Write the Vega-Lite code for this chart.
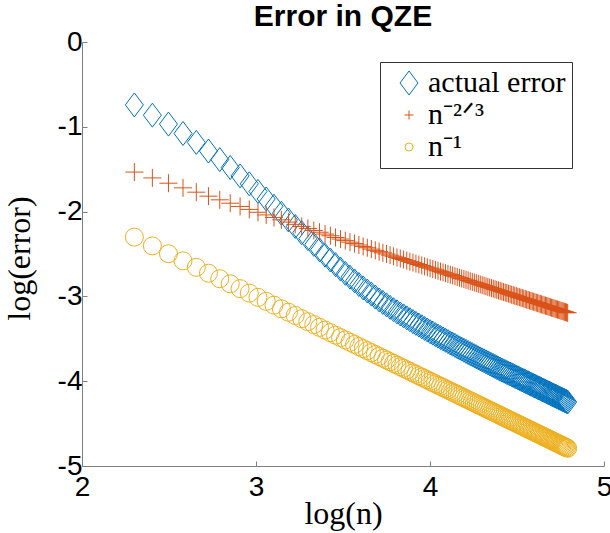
{
"$schema":"https://vega.github.io/schema/vega-lite/v6.json",
"width":522,"height":424,
"autosize":{"type":"none"},
"padding":{"left":82,"top":42,"right":6,"bottom":67},
"background":"white",
"config":{"view":{"stroke":null},"font":"Liberation Sans"},
"title":{"text":"Error in QZE","font":"Liberation Sans","fontSize":30,"fontWeight":"bold","color":"black","offset":13,"dy":17,"anchor":"middle","frame":"group"},
"datasets":{
"err":[{"x":2.3009,"y":-0.742},{"x":2.4044,"y":-0.863},{"x":2.4969,"y":-0.968},{"x":2.5805,"y":-1.079},{"x":2.6568,"y":-1.184},{"x":2.7268,"y":-1.286},{"x":2.7917,"y":-1.387},{"x":2.852,"y":-1.48},{"x":2.9085,"y":-1.579},{"x":2.9614,"y":-1.672},{"x":3.0114,"y":-1.762},{"x":3.0586,"y":-1.851},{"x":3.1034,"y":-1.937},{"x":3.146,"y":-2.02},{"x":3.1866,"y":-2.099},{"x":3.2254,"y":-2.175},{"x":3.2625,"y":-2.249},{"x":3.2981,"y":-2.319},{"x":3.3323,"y":-2.387},{"x":3.3652,"y":-2.451},{"x":3.3969,"y":-2.514},{"x":3.4275,"y":-2.571},{"x":3.457,"y":-2.625},{"x":3.4856,"y":-2.678},{"x":3.5133,"y":-2.728},{"x":3.5401,"y":-2.773},{"x":3.5661,"y":-2.817},{"x":3.5913,"y":-2.86},{"x":3.6159,"y":-2.9},{"x":3.6397,"y":-2.937},{"x":3.663,"y":-2.973},{"x":3.6856,"y":-3.008},{"x":3.7076,"y":-3.041},{"x":3.7291,"y":-3.071},{"x":3.7501,"y":-3.1},{"x":3.7706,"y":-3.129},{"x":3.7906,"y":-3.157},{"x":3.8102,"y":-3.183},{"x":3.8293,"y":-3.207},{"x":3.848,"y":-3.23},{"x":3.8664,"y":-3.253},{"x":3.8843,"y":-3.275},{"x":3.9019,"y":-3.297},{"x":3.9191,"y":-3.318},{"x":3.936,"y":-3.338},{"x":3.9526,"y":-3.358},{"x":3.9689,"y":-3.378},{"x":3.9848,"y":-3.397},{"x":4.0005,"y":-3.416},{"x":4.0159,"y":-3.433},{"x":4.0311,"y":-3.451},{"x":4.0459,"y":-3.468},{"x":4.0605,"y":-3.485},{"x":4.0749,"y":-3.501},{"x":4.0891,"y":-3.517},{"x":4.103,"y":-3.533},{"x":4.1167,"y":-3.549},{"x":4.1302,"y":-3.564},{"x":4.1435,"y":-3.578},{"x":4.1565,"y":-3.593},{"x":4.1694,"y":-3.607},{"x":4.1821,"y":-3.621},{"x":4.1947,"y":-3.635},{"x":4.207,"y":-3.649},{"x":4.2192,"y":-3.662},{"x":4.2312,"y":-3.675},{"x":4.243,"y":-3.687},{"x":4.2547,"y":-3.7},{"x":4.2662,"y":-3.712},{"x":4.2776,"y":-3.725},{"x":4.2888,"y":-3.737},{"x":4.2999,"y":-3.749},{"x":4.3108,"y":-3.76},{"x":4.3216,"y":-3.772},{"x":4.3323,"y":-3.783},{"x":4.3428,"y":-3.794},{"x":4.3532,"y":-3.805},{"x":4.3635,"y":-3.816},{"x":4.3737,"y":-3.827},{"x":4.3837,"y":-3.838},{"x":4.3937,"y":-3.848},{"x":4.4035,"y":-3.859},{"x":4.4132,"y":-3.868},{"x":4.4228,"y":-3.878},{"x":4.4323,"y":-3.887},{"x":4.4417,"y":-3.897},{"x":4.451,"y":-3.906},{"x":4.4602,"y":-3.915},{"x":4.4693,"y":-3.924},{"x":4.4784,"y":-3.933},{"x":4.4873,"y":-3.942},{"x":4.4961,"y":-3.951},{"x":4.5048,"y":-3.96},{"x":4.5135,"y":-3.969},{"x":4.5221,"y":-3.977},{"x":4.5305,"y":-3.986},{"x":4.5389,"y":-3.994},{"x":4.5473,"y":-4.002},{"x":4.5555,"y":-4.011},{"x":4.5637,"y":-4.019},{"x":4.5718,"y":-4.027},{"x":4.5798,"y":-4.035},{"x":4.5877,"y":-4.043},{"x":4.5956,"y":-4.051},{"x":4.6034,"y":-4.058},{"x":4.6111,"y":-4.066},{"x":4.6188,"y":-4.074},{"x":4.6264,"y":-4.081},{"x":4.6339,"y":-4.089},{"x":4.6413,"y":-4.096},{"x":4.6487,"y":-4.104},{"x":4.6561,"y":-4.111},{"x":4.6634,"y":-4.118},{"x":4.6706,"y":-4.126},{"x":4.6777,"y":-4.133},{"x":4.6848,"y":-4.14},{"x":4.6919,"y":-4.147},{"x":4.6988,"y":-4.154},{"x":4.7058,"y":-4.161},{"x":4.7126,"y":-4.168},{"x":4.7195,"y":-4.175},{"x":4.7262,"y":-4.181},{"x":4.7329,"y":-4.188},{"x":4.7396,"y":-4.195},{"x":4.7462,"y":-4.201},{"x":4.7528,"y":-4.208},{"x":4.7593,"y":-4.214},{"x":4.7657,"y":-4.221},{"x":4.7722,"y":-4.227},{"x":4.7785,"y":-4.234},{"x":4.7848,"y":-4.24},{"x":4.7911,"y":-4.246}],
"p23":[{"x":2.3009,"y":-1.534},{"x":2.4044,"y":-1.603},{"x":2.4969,"y":-1.665},{"x":2.5805,"y":-1.72},{"x":2.6568,"y":-1.771},{"x":2.7268,"y":-1.818},{"x":2.7917,"y":-1.861},{"x":2.852,"y":-1.901},{"x":2.9085,"y":-1.939},{"x":2.9614,"y":-1.974},{"x":3.0114,"y":-2.008},{"x":3.0586,"y":-2.039},{"x":3.1034,"y":-2.069},{"x":3.146,"y":-2.097},{"x":3.1866,"y":-2.124},{"x":3.2254,"y":-2.15},{"x":3.2625,"y":-2.175},{"x":3.2981,"y":-2.199},{"x":3.3323,"y":-2.222},{"x":3.3652,"y":-2.243},{"x":3.3969,"y":-2.265},{"x":3.4275,"y":-2.285},{"x":3.457,"y":-2.305},{"x":3.4856,"y":-2.324},{"x":3.5133,"y":-2.342},{"x":3.5401,"y":-2.36},{"x":3.5661,"y":-2.377},{"x":3.5913,"y":-2.394},{"x":3.6159,"y":-2.411},{"x":3.6397,"y":-2.426},{"x":3.663,"y":-2.442},{"x":3.6856,"y":-2.457},{"x":3.7076,"y":-2.472},{"x":3.7291,"y":-2.486},{"x":3.7501,"y":-2.5},{"x":3.7706,"y":-2.514},{"x":3.7906,"y":-2.527},{"x":3.8102,"y":-2.54},{"x":3.8293,"y":-2.553},{"x":3.848,"y":-2.565},{"x":3.8664,"y":-2.578},{"x":3.8843,"y":-2.59},{"x":3.9019,"y":-2.601},{"x":3.9191,"y":-2.613},{"x":3.936,"y":-2.624},{"x":3.9526,"y":-2.635},{"x":3.9689,"y":-2.646},{"x":3.9848,"y":-2.657},{"x":4.0005,"y":-2.667},{"x":4.0159,"y":-2.677},{"x":4.0311,"y":-2.687},{"x":4.0459,"y":-2.697},{"x":4.0605,"y":-2.707},{"x":4.0749,"y":-2.717},{"x":4.0891,"y":-2.726},{"x":4.103,"y":-2.735},{"x":4.1167,"y":-2.744},{"x":4.1302,"y":-2.753},{"x":4.1435,"y":-2.762},{"x":4.1565,"y":-2.771},{"x":4.1694,"y":-2.78},{"x":4.1821,"y":-2.788},{"x":4.1947,"y":-2.796},{"x":4.207,"y":-2.805},{"x":4.2192,"y":-2.813},{"x":4.2312,"y":-2.821},{"x":4.243,"y":-2.829},{"x":4.2547,"y":-2.836},{"x":4.2662,"y":-2.844},{"x":4.2776,"y":-2.852},{"x":4.2888,"y":-2.859},{"x":4.2999,"y":-2.867},{"x":4.3108,"y":-2.874},{"x":4.3216,"y":-2.881},{"x":4.3323,"y":-2.888},{"x":4.3428,"y":-2.895},{"x":4.3532,"y":-2.902},{"x":4.3635,"y":-2.909},{"x":4.3737,"y":-2.916},{"x":4.3837,"y":-2.922},{"x":4.3937,"y":-2.929},{"x":4.4035,"y":-2.936},{"x":4.4132,"y":-2.942},{"x":4.4228,"y":-2.949},{"x":4.4323,"y":-2.955},{"x":4.4417,"y":-2.961},{"x":4.451,"y":-2.967},{"x":4.4602,"y":-2.973},{"x":4.4693,"y":-2.98},{"x":4.4784,"y":-2.986},{"x":4.4873,"y":-2.992},{"x":4.4961,"y":-2.997},{"x":4.5048,"y":-3.003},{"x":4.5135,"y":-3.009},{"x":4.5221,"y":-3.015},{"x":4.5305,"y":-3.02},{"x":4.5389,"y":-3.026},{"x":4.5473,"y":-3.032},{"x":4.5555,"y":-3.037},{"x":4.5637,"y":-3.042},{"x":4.5718,"y":-3.048},{"x":4.5798,"y":-3.053},{"x":4.5877,"y":-3.058},{"x":4.5956,"y":-3.064},{"x":4.6034,"y":-3.069},{"x":4.6111,"y":-3.074},{"x":4.6188,"y":-3.079},{"x":4.6264,"y":-3.084},{"x":4.6339,"y":-3.089},{"x":4.6413,"y":-3.094},{"x":4.6487,"y":-3.099},{"x":4.6561,"y":-3.104},{"x":4.6634,"y":-3.109},{"x":4.6706,"y":-3.114},{"x":4.6777,"y":-3.118},{"x":4.6848,"y":-3.123},{"x":4.6919,"y":-3.128},{"x":4.6988,"y":-3.133},{"x":4.7058,"y":-3.137},{"x":4.7126,"y":-3.142},{"x":4.7195,"y":-3.146},{"x":4.7262,"y":-3.151},{"x":4.7329,"y":-3.155},{"x":4.7396,"y":-3.16},{"x":4.7462,"y":-3.164},{"x":4.7528,"y":-3.169},{"x":4.7593,"y":-3.173},{"x":4.7657,"y":-3.177},{"x":4.7722,"y":-3.181},{"x":4.7785,"y":-3.186},{"x":4.7848,"y":-3.19},{"x":4.7911,"y":-3.194}],
"p1":[{"x":2.3009,"y":-2.3009},{"x":2.4044,"y":-2.4044},{"x":2.4969,"y":-2.4969},{"x":2.5805,"y":-2.5805},{"x":2.6568,"y":-2.6568},{"x":2.7268,"y":-2.7268},{"x":2.7917,"y":-2.7917},{"x":2.852,"y":-2.852},{"x":2.9085,"y":-2.9085},{"x":2.9614,"y":-2.9614},{"x":3.0114,"y":-3.0114},{"x":3.0586,"y":-3.0586},{"x":3.1034,"y":-3.1034},{"x":3.146,"y":-3.146},{"x":3.1866,"y":-3.1866},{"x":3.2254,"y":-3.2254},{"x":3.2625,"y":-3.2625},{"x":3.2981,"y":-3.2981},{"x":3.3323,"y":-3.3323},{"x":3.3652,"y":-3.3652},{"x":3.3969,"y":-3.3969},{"x":3.4275,"y":-3.4275},{"x":3.457,"y":-3.457},{"x":3.4856,"y":-3.4856},{"x":3.5133,"y":-3.5133},{"x":3.5401,"y":-3.5401},{"x":3.5661,"y":-3.5661},{"x":3.5913,"y":-3.5913},{"x":3.6159,"y":-3.6159},{"x":3.6397,"y":-3.6397},{"x":3.663,"y":-3.663},{"x":3.6856,"y":-3.6856},{"x":3.7076,"y":-3.7076},{"x":3.7291,"y":-3.7291},{"x":3.7501,"y":-3.7501},{"x":3.7706,"y":-3.7706},{"x":3.7906,"y":-3.7906},{"x":3.8102,"y":-3.8102},{"x":3.8293,"y":-3.8293},{"x":3.848,"y":-3.848},{"x":3.8664,"y":-3.8664},{"x":3.8843,"y":-3.8843},{"x":3.9019,"y":-3.9019},{"x":3.9191,"y":-3.9191},{"x":3.936,"y":-3.936},{"x":3.9526,"y":-3.9526},{"x":3.9689,"y":-3.9689},{"x":3.9848,"y":-3.9848},{"x":4.0005,"y":-4.0005},{"x":4.0159,"y":-4.0159},{"x":4.0311,"y":-4.0311},{"x":4.0459,"y":-4.0459},{"x":4.0605,"y":-4.0605},{"x":4.0749,"y":-4.0749},{"x":4.0891,"y":-4.0891},{"x":4.103,"y":-4.103},{"x":4.1167,"y":-4.1167},{"x":4.1302,"y":-4.1302},{"x":4.1435,"y":-4.1435},{"x":4.1565,"y":-4.1565},{"x":4.1694,"y":-4.1694},{"x":4.1821,"y":-4.1821},{"x":4.1947,"y":-4.1947},{"x":4.207,"y":-4.207},{"x":4.2192,"y":-4.2192},{"x":4.2312,"y":-4.2312},{"x":4.243,"y":-4.243},{"x":4.2547,"y":-4.2547},{"x":4.2662,"y":-4.2662},{"x":4.2776,"y":-4.2776},{"x":4.2888,"y":-4.2888},{"x":4.2999,"y":-4.2999},{"x":4.3108,"y":-4.3108},{"x":4.3216,"y":-4.3216},{"x":4.3323,"y":-4.3323},{"x":4.3428,"y":-4.3428},{"x":4.3532,"y":-4.3532},{"x":4.3635,"y":-4.3635},{"x":4.3737,"y":-4.3737},{"x":4.3837,"y":-4.3837},{"x":4.3937,"y":-4.3937},{"x":4.4035,"y":-4.4035},{"x":4.4132,"y":-4.4132},{"x":4.4228,"y":-4.4228},{"x":4.4323,"y":-4.4323},{"x":4.4417,"y":-4.4417},{"x":4.451,"y":-4.451},{"x":4.4602,"y":-4.4602},{"x":4.4693,"y":-4.4693},{"x":4.4784,"y":-4.4784},{"x":4.4873,"y":-4.4873},{"x":4.4961,"y":-4.4961},{"x":4.5048,"y":-4.5048},{"x":4.5135,"y":-4.5135},{"x":4.5221,"y":-4.5221},{"x":4.5305,"y":-4.5305},{"x":4.5389,"y":-4.5389},{"x":4.5473,"y":-4.5473},{"x":4.5555,"y":-4.5555},{"x":4.5637,"y":-4.5637},{"x":4.5718,"y":-4.5718},{"x":4.5798,"y":-4.5798},{"x":4.5877,"y":-4.5877},{"x":4.5956,"y":-4.5956},{"x":4.6034,"y":-4.6034},{"x":4.6111,"y":-4.6111},{"x":4.6188,"y":-4.6188},{"x":4.6264,"y":-4.6264},{"x":4.6339,"y":-4.6339},{"x":4.6413,"y":-4.6413},{"x":4.6487,"y":-4.6487},{"x":4.6561,"y":-4.6561},{"x":4.6634,"y":-4.6634},{"x":4.6706,"y":-4.6706},{"x":4.6777,"y":-4.6777},{"x":4.6848,"y":-4.6848},{"x":4.6919,"y":-4.6919},{"x":4.6988,"y":-4.6988},{"x":4.7058,"y":-4.7058},{"x":4.7126,"y":-4.7126},{"x":4.7195,"y":-4.7195},{"x":4.7262,"y":-4.7262},{"x":4.7329,"y":-4.7329},{"x":4.7396,"y":-4.7396},{"x":4.7462,"y":-4.7462},{"x":4.7528,"y":-4.7528},{"x":4.7593,"y":-4.7593},{"x":4.7657,"y":-4.7657},{"x":4.7722,"y":-4.7722},{"x":4.7785,"y":-4.7785},{"x":4.7848,"y":-4.7848},{"x":4.7911,"y":-4.7911}]
},
"encoding":{
"x":{"field":"x","type":"quantitative","scale":{"domain":[2,5],"nice":false,"zero":false},
"axis":{"values":[2,3,4,5],"title":"log(n)","titleFont":"Liberation Serif","titleFontSize":32,"titleFontWeight":"normal","titleColor":"black","labelFont":"Liberation Sans","labelFontSize":28,"labelColor":"black","domainColor":"#7f7f7f","tickColor":"#7f7f7f","tickSize":-5,"labelPadding":12,"grid":false,"labelFlush":false,"labelExpr":"'' + datum.value","titleX":261,"titleY":57,"titleBaseline":"alphabetic"}},
"y":{"field":"y","type":"quantitative","scale":{"domain":[-5,0],"nice":false,"zero":false},
"axis":{"values":[-5,-4,-3,-2,-1,0],"title":"log(error)","titleFont":"Liberation Serif","titleFontSize":32,"titleFontWeight":"normal","titleColor":"black","labelFont":"Liberation Sans","labelFontSize":28,"labelColor":"black","domainColor":"#7f7f7f","tickColor":"#7f7f7f","tickSize":-5,"labelPadding":5,"grid":false,"labelFlush":false,"labelExpr":"'' + datum.value","titleX":-46,"titleY":216,"titleAngle":-90,"titleBaseline":"bottom"}}
},
"layer":[
{"data":{"name":"err"},"mark":{"type":"point","filled":false,"opacity":1,"strokeWidth":1},
"encoding":{
"color":{"datum":"actual error","scale":{"domain":["actual error","n⁻²ᐟ³","n⁻¹"],"range":["#0072BD","#D95319","#EDB120"]},"legend":{"title":null,"orient":"none","legendX":298,"legendY":20,"padding":6,"strokeColor":"#333333","fillColor":"white","labelFont":"Liberation Serif","labelFontSize":30,"labelColor":"black","rowPadding":2,"labelOffset":4,"symbolOffset":8,"symbolStrokeWidth":1}},
"shape":{"datum":"actual error","scale":{"domain":["actual error","n⁻²ᐟ³","n⁻¹"],"range":["M0,-1L0.75,0L0,1L-0.75,0Z","M-1,0L1,0M0,-1L0,1","circle"]},"legend":{"title":null,"orient":"none","legendX":298,"legendY":20,"padding":6,"strokeColor":"#333333","fillColor":"white","labelFont":"Liberation Serif","labelFontSize":30,"labelColor":"black","rowPadding":2,"labelOffset":4,"symbolOffset":8,"symbolStrokeWidth":1}},
"size":{"datum":"actual error","type":"nominal","scale":{"type":"ordinal","domain":["actual error","n⁻²ᐟ³","n⁻¹"],"range":[576,81,64]},"legend":{"title":null,"orient":"none","legendX":298,"legendY":20,"padding":6,"strokeColor":"#333333","fillColor":"white","labelFont":"Liberation Serif","labelFontSize":30,"labelColor":"black","rowPadding":2,"labelOffset":4,"symbolOffset":8,"symbolStrokeWidth":1}}
}},
{"data":{"name":"p23"},"mark":{"type":"point","filled":false,"opacity":1,"strokeWidth":1,"size":324},
"encoding":{"color":{"datum":"n⁻²ᐟ³"},"shape":{"datum":"n⁻²ᐟ³"}}},
{"data":{"name":"p1"},"mark":{"type":"point","filled":false,"opacity":1,"strokeWidth":1,"size":324},
"encoding":{"color":{"datum":"n⁻¹"},"shape":{"datum":"n⁻¹"}}}
]
}
